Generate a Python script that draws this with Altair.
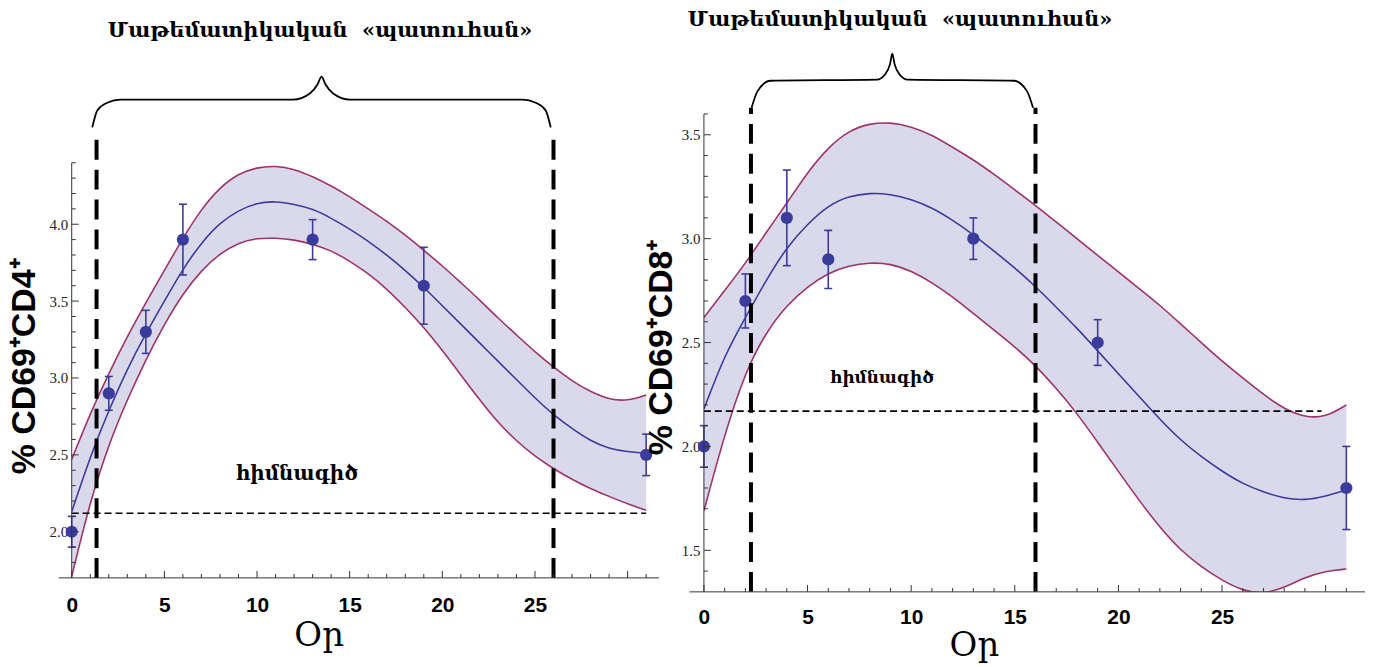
import altair as alt
import pandas as pd

# ---------------- data ----------------
OBS_DAYS = [0, 2, 4, 6, 13, 19, 31]
CD4_MEAN = [2.0, 2.9, 3.3, 3.9, 3.9, 3.6, 2.5]
CD4_ERR = [0.10, 0.11, 0.14, 0.23, 0.13, 0.25, 0.135]
CD8_MEAN = [2.0, 2.7, 3.1, 2.9, 3.0, 2.5, 1.8]
CD8_ERR = [0.10, 0.13, 0.23, 0.14, 0.10, 0.11, 0.20]

FIT_DAYS = [0, 1, 2, 3, 4, 5, 6, 7, 8, 9, 10, 11, 12, 13, 14, 15,
            16, 17, 18, 19, 20, 21, 22, 23, 24, 25, 26, 27, 28, 29, 30, 31]
CD4_FIT = [2.13, 2.49, 2.79, 3.06, 3.29, 3.50, 3.71, 3.88, 4.01, 4.09, 4.14, 4.15,
           4.13, 4.10, 4.04, 3.97, 3.89, 3.80, 3.70, 3.59, 3.47, 3.35, 3.23, 3.11,
           2.99, 2.87, 2.76, 2.67, 2.59, 2.54, 2.52, 2.51]
CD4_UPPER = [2.47, 2.77, 3.03, 3.27, 3.49, 3.70, 3.91, 4.10, 4.24, 4.33, 4.37, 4.38,
             4.36, 4.31, 4.25, 4.18, 4.10, 4.02, 3.93, 3.83, 3.73, 3.62, 3.51, 3.39,
             3.28, 3.17, 3.07, 2.98, 2.91, 2.86, 2.85, 2.89]
CD4_LOWER = [1.71, 2.20, 2.57, 2.86, 3.12, 3.35, 3.55, 3.70, 3.81, 3.88, 3.91, 3.91,
             3.90, 3.87, 3.83, 3.76, 3.68, 3.58, 3.46, 3.33, 3.18, 3.02, 2.86, 2.71,
             2.59, 2.49, 2.41, 2.34, 2.28, 2.23, 2.18, 2.14]
CD8_FIT = [2.18, 2.44, 2.62, 2.80, 2.96, 3.07, 3.16, 3.205, 3.22, 3.215, 3.19, 3.15,
           3.09, 3.02, 2.94, 2.86, 2.77, 2.67, 2.57, 2.46, 2.35, 2.24, 2.13, 2.03,
           1.95, 1.88, 1.82, 1.78, 1.75, 1.74, 1.76, 1.79]
CD8_UPPER = [2.62, 2.75, 2.88, 3.03, 3.17, 3.32, 3.44, 3.52, 3.555, 3.56, 3.54, 3.50,
             3.44, 3.38, 3.31, 3.235, 3.16, 3.08, 3.00, 2.92, 2.84, 2.76, 2.68, 2.59,
             2.50, 2.41, 2.33, 2.25, 2.18, 2.14, 2.14, 2.20]
CD8_LOWER = [1.69, 2.06, 2.36, 2.55, 2.68, 2.77, 2.835, 2.87, 2.885, 2.88, 2.845, 2.79,
             2.72, 2.64, 2.56, 2.48, 2.39, 2.28, 2.16, 2.02, 1.88, 1.74, 1.61, 1.50,
             1.42, 1.355, 1.305, 1.29, 1.32, 1.37, 1.40, 1.41]

CD4_BASELINE = [0, 31, 2.12]      # from day, to day, level
CD8_BASELINE = [0, 29.8, 2.17]
CD4_WINDOW = [1.34, 26.0]
CD8_WINDOW = [2.27, 16.0]

CD4_BRACE_X = [1.11, 1.38, 1.92, 2.63, 11.95, 12.85, 13.27, 13.48,
               13.69, 14.11, 15.01, 24.33, 25.04, 25.58, 25.85]
CD4_BRACE_Y = [4.63, 4.74, 4.79, 4.81, 4.81, 4.85, 4.91, 4.96,
               4.91, 4.85, 4.81, 4.81, 4.79, 4.74, 4.63]
CD8_BRACE_X = [2.30, 2.59, 3.22, 8.35, 8.74, 8.98, 9.09,
               9.20, 9.44, 9.83, 14.96, 15.59, 15.88]
CD8_BRACE_Y = [3.63, 3.71, 3.76, 3.765, 3.79, 3.84, 3.89,
               3.84, 3.79, 3.765, 3.76, 3.71, 3.63]

WINDOW_TEXT = "Մաթեմատիկական\u00a0 «պատուհան»"
BASE_TEXT = "հիմնագիծ"
X_TITLE = "Օր"
X_LABELS = [0, 5, 10, 15, 20, 25]
X_MAJOR = [0, 5, 10, 15, 20, 25, 30]
X_MINOR = [d for d in range(1, 32) if d % 5]

BAND = "#d9d9eb"
EDGE = "#9c3468"
BLUE = "#3b3b9c"
AXIS = "#333333"
CURVE = "basis"


def panel(mean, err, fit, upper, lower, base, window, bx, by, cfg):
    xs = alt.Scale(domain=cfg["xdom"], nice=False, zero=False)
    ys = alt.Scale(domain=cfg["ydom"], nice=False, zero=False)
    a0, a1 = cfg["yaxis_span"]
    xaxis = alt.Axis(values=X_LABELS, ticks=False, tickSize=0, grid=False, domain=False,
                     labelFlush=False,
                     labelFont="Liberation Sans", labelFontWeight="bold",
                     labelFontSize=21, labelColor="black", labelPadding=cfg["xlp"],
                     title=X_TITLE, titleFont="DejaVu Serif", titleFontSize=34,
                     titleFontWeight="normal", titleColor="black",
                     titleX=cfg["xtx"], titleY=cfg["xty"], titleBaseline="alphabetic")
    yaxis = alt.Axis(values=cfg["ymajor"], ticks=False, tickSize=0, grid=False, domain=False,
                     labelFlush=False,
                     labelFont="Liberation Serif", labelFontSize=15, labelColor="#222222",
                     labelPadding=4, format=".1f", title=cfg["ytitle"],
                     titleFont="Liberation Sans", titleFontSize=34, titleFontWeight="bold",
                     titleColor="black", titleX=cfg["ytx"], titleY=cfg["yty"],
                     titleBaseline="alphabetic")

    def X(f):
        return alt.X(f, type="quantitative", scale=xs, axis=xaxis)

    def Y(f):
        return alt.Y(f, type="quantitative", scale=ys, axis=yaxis)

    def XD(v):
        return alt.XDatum(v, type="quantitative", scale=xs, axis=xaxis)

    def YD(v):
        return alt.YDatum(v, type="quantitative", scale=ys, axis=yaxis)

    fdf = pd.DataFrame({"day": FIT_DAYS, "fit": fit, "upper": upper, "lower": lower})
    odf = pd.DataFrame({"day": OBS_DAYS, "m": mean,
                        "lo": [m - e for m, e in zip(mean, err)],
                        "hi": [m + e for m, e in zip(mean, err)]})
    cdf = pd.DataFrame({"day": OBS_DAYS + OBS_DAYS,
                        "v": list(odf["lo"]) + list(odf["hi"])})
    bdf = pd.DataFrame({"x0": [base[0]], "x1": [base[1]], "y": [base[2]]})
    wdf = pd.DataFrame({"x": window, "y0": [a0] * 2, "y1": [cfg["wtop"]] * 2})
    brdf = pd.DataFrame({"x": bx, "y": by})
    tdf = pd.DataFrame({"x": [cfg["title_xy"][0]], "y": [cfg["title_xy"][1]],
                        "t": [WINDOW_TEXT]})
    ldf = pd.DataFrame({"x": [cfg["base_xy"][0]], "y": [cfg["base_xy"][1]],
                        "t": [BASE_TEXT]})
    ymaj = pd.DataFrame({"v": cfg["ymajor"]})
    ymin = pd.DataFrame({"v": cfg["yminor"]})
    xmaj = pd.DataFrame({"v": X_MAJOR})
    xmin = pd.DataFrame({"v": X_MINOR})
    xline = pd.DataFrame({"x0": [cfg["xline"][0]], "x1": [cfg["xline"][1]], "y": [a0]})
    yline = pd.DataFrame({"x": [0], "y0": [a0], "y1": [a1]})

    band = alt.Chart(fdf).mark_area(color=BAND, clip=True, interpolate=CURVE).encode(
        x=X("day"), y=Y("lower"), y2=alt.Y2("upper"))
    up = alt.Chart(fdf).mark_line(color=EDGE, strokeWidth=1.6, clip=True,
                                  interpolate=CURVE).encode(x=X("day"), y=Y("upper"))
    lo = alt.Chart(fdf).mark_line(color=EDGE, strokeWidth=1.6, clip=True,
                                  interpolate=CURVE).encode(x=X("day"), y=Y("lower"))
    mid = alt.Chart(fdf).mark_line(color=BLUE, strokeWidth=1.6, clip=True,
                                   interpolate=CURVE).encode(x=X("day"), y=Y("fit"))
    basel = alt.Chart(bdf).mark_rule(color="black", strokeWidth=1.6,
                                     strokeDash=[7, 4]).encode(
        x=X("x0"), x2=alt.X2("x1"), y=Y("y"))
    win = alt.Chart(wdf).mark_rule(color="black", strokeWidth=4,
                                   strokeDash=[20, 10]).encode(
        x=X("x"), y=Y("y0"), y2=alt.Y2("y1"))
    ebar = alt.Chart(odf).mark_rule(color=BLUE, strokeWidth=1.6).encode(
        x=X("day"), y=Y("lo"), y2=alt.Y2("hi"))
    caps = alt.Chart(cdf).mark_tick(color=BLUE, orient="horizontal", size=8,
                                    thickness=1.6, opacity=1).encode(x=X("day"), y=Y("v"))
    pts = alt.Chart(odf).mark_circle(color=BLUE, size=150, opacity=1).encode(
        x=X("day"), y=Y("m"))
    xax = alt.Chart(xline).mark_rule(color=AXIS, strokeWidth=1).encode(
        x=X("x0"), x2=alt.X2("x1"), y=Y("y"))
    yax = alt.Chart(yline).mark_rule(color=AXIS, strokeWidth=1).encode(
        x=X("x"), y=Y("y0"), y2=alt.Y2("y1"))
    ytm = alt.Chart(ymaj).mark_tick(color=AXIS, orient="horizontal", size=7,
                                    thickness=1, opacity=1, xOffset=3.5).encode(
        x=XD(0), y=Y("v"))
    ytn = alt.Chart(ymin).mark_tick(color=AXIS, orient="horizontal", size=4,
                                    thickness=1, opacity=1, xOffset=2).encode(
        x=XD(0), y=Y("v"))
    xtm = alt.Chart(xmaj).mark_tick(color=AXIS, orient="vertical", size=7,
                                    thickness=1, opacity=1, yOffset=-3.5).encode(
        x=X("v"), y=YD(a0))
    xtn = alt.Chart(xmin).mark_tick(color=AXIS, orient="vertical", size=4,
                                    thickness=1, opacity=1, yOffset=-2).encode(
        x=X("v"), y=YD(a0))
    brace = alt.Chart(brdf).mark_line(color="black", strokeWidth=1.8,
                                      interpolate="monotone").encode(x=X("x"), y=Y("y"))
    title = alt.Chart(tdf).mark_text(font="DejaVu Serif", fontSize=cfg["tfs"],
                                     fontWeight="bold", color="black").encode(
        x=X("x"), y=Y("y"), text="t:N")
    blabel = alt.Chart(ldf).mark_text(font="DejaVu Serif", fontSize=cfg["lfs"],
                                      fontWeight="bold", color="black").encode(
        x=X("x"), y=Y("y"), text="t:N")

    return alt.layer(band, up, lo, mid, basel, ebar, caps, pts, win, xax, yax,
                     ytm, ytn, xtm, xtn, brace, title, blabel).properties(
        width=cfg["w"], height=cfg["h"])


left = panel(CD4_MEAN, CD4_ERR, CD4_FIT, CD4_UPPER, CD4_LOWER, CD4_BASELINE,
             CD4_WINDOW, CD4_BRACE_X, CD4_BRACE_Y,
             dict(xdom=[0, 31.7], ydom=[1.609, 4.717], yaxis_span=[1.70, 4.40],
                  xline=[-0.7, 31.7], w=590, h=480,
                  ymajor=[2.0, 2.5, 3.0, 3.5, 4.0],
                  yminor=[round(1.8 + 0.1 * i, 1) for i in range(27) if i % 5 != 2],
                  ytitle="% CD69⁺CD4⁺", ytx=-37, yty=253, xlp=3, xtx=248, xty=54,
                  wtop=4.60, title_xy=[13.4, 5.256], base_xy=[12.15, 2.375],
                  tfs=21, lfs=20))
right = panel(CD8_MEAN, CD8_ERR, CD8_FIT, CD8_UPPER, CD8_LOWER, CD8_BASELINE,
              CD8_WINDOW, CD8_BRACE_X, CD8_BRACE_Y,
              dict(xdom=[0, 31.9], ydom=[1.30, 3.60], yaxis_span=[1.30, 3.60],
                   xline=[-0.7, 31.9], w=664, h=480,
                   ymajor=[1.5, 2.0, 2.5, 3.0, 3.5],
                   yminor=[round(1.4 + 0.1 * i, 1) for i in range(23) if i % 5 != 1],
                   ytitle="% CD69⁺CD8⁺", ytx=-33, yty=234, xlp=15, xtx=271, xty=64,
                   wtop=3.63, title_xy=[9.46, 4.05], base_xy=[8.59, 2.33],
                   tfs=21, lfs=17))

chart = alt.hconcat(left, right, spacing=45, bounds="flush").properties(
    padding=0).configure_view(stroke=None)

chart.save("out.html", embed_options={"renderer": "svg", "actions": False})
